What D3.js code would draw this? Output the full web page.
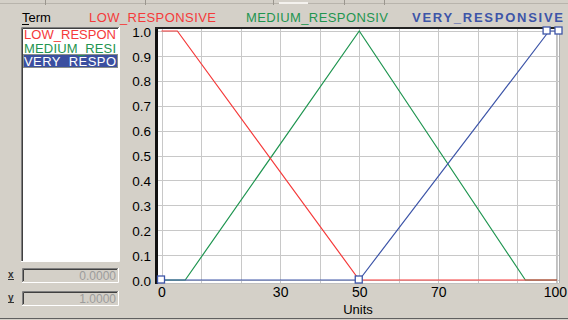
<!DOCTYPE html>
<html><head><meta charset="utf-8">
<script src="https://cdn.jsdelivr.net/npm/d3@7"></script>
<style>body{margin:0;background:#d4d0c8;}svg{display:block;}</style>
</head><body>
<svg id="c" width="568" height="320"></svg>
<script>
const terms = ["LOW_RESPONSIVE", "MEDIUM_RESPONSIV", "VERY_RESPONSIVE"];
const listLabels = ["LOW_RESPON", "MEDIUM_RESI", "VERY_RESPO"];
const lowX = [0, 4, 50, 100];
const lowY = [1, 1, 0, 0];
const medX = [0, 6, 50, 92, 100];
const medY = [0, 0, 1, 0, 0];
const veryX = [0, 50, 98, 100];
const veryY = [0, 0, 1, 1];
const xTicks = [0, 30, 50, 70, 100];
const yTicks = [0, 0.1, 0.2, 0.3, 0.4, 0.5, 0.6, 0.7, 0.8, 0.9, 1.0];
const xGrid = [0, 10, 20, 30, 40, 50, 60, 70, 80, 90, 100];
const colors = ["#f53a3a", "#1f9550", "#3d55a8"];
const xValue = "0.0000", yValue = "1.0000";

const svg = d3.select("#c");
const font = "'Liberation Sans', Arial, sans-serif";

// top strip
svg.append("line").attr("x1", 0).attr("x2", 568).attr("y1", 3.5).attr("y2", 3.5).attr("stroke", "#b8b4ac");
svg.append("rect").attr("x", 279).attr("y", 2).attr("width", 29).attr("height", 2).attr("fill", "#f4f2ee");
[45, 145, 273, 344, 384].forEach(x => svg.append("line").attr("x1", x + 0.5).attr("x2", x + 0.5).attr("y1", 0).attr("y2", 5).attr("stroke", "#9a968e"));
// bottom line
svg.append("line").attr("x1", 0).attr("x2", 568).attr("y1", 318.5).attr("y2", 318.5).attr("stroke", "#606060");

// Term label
svg.append("text").attr("x", 22).attr("y", 22).attr("font-family", font).attr("font-size", 13).attr("fill", "#000").text("Term");
svg.append("line").attr("x1", 22).attr("x2", 29).attr("y1", 24.5).attr("y2", 24.5).attr("stroke", "#000");

// header titles
const titleX = [89, 246, 412];
const titleW = [127, 142, 151];
terms.forEach((t, i) => {
  svg.append("text").attr("x", titleX[i]).attr("y", 22).attr("font-family", font).attr("font-size", 13)
    .attr("font-weight", i === 2 ? "bold" : "normal").attr("fill", colors[i])
    .attr("textLength", titleW[i]).attr("lengthAdjust", "spacing").text(t);
});

// listbox
svg.append("rect").attr("x", 21).attr("y", 27).attr("width", 98).attr("height", 235).attr("fill", "#fff");
svg.append("path").attr("d", "M21.5,262 V27.5 H119").attr("fill", "none").attr("stroke", "#808080");
svg.append("path").attr("d", "M22.5,261 V28.5 H118").attr("fill", "none").attr("stroke", "#404040");
svg.append("path").attr("d", "M21,261.5 H119.5 V27").attr("fill", "none").attr("stroke", "#fff");
svg.append("rect").attr("x", 23).attr("y", 54).attr("width", 95).attr("height", 14).attr("fill", "#3b4fa0");
svg.append("rect").attr("x", 23.5).attr("y", 54.5).attr("width", 94).attr("height", 13).attr("fill", "none")
  .attr("stroke", "#d8d070").attr("stroke-dasharray", "1,1");
listLabels.forEach((t, i) => {
  svg.append("text").attr("x", 24).attr("y", 39 + i * 13.5).attr("font-family", font).attr("font-size", 13)
    .attr("textLength", 92).attr("lengthAdjust", "spacing")
    .attr("fill", i === 2 ? "#fff" : colors[i]).text(t);
});

// x / y boxes
[[268, "x", xValue], [291, "y", yValue]].forEach(([y, lab, val]) => {
  svg.append("rect").attr("x", 22).attr("y", y).attr("width", 96).attr("height", 14).attr("fill", "#d4d0c8");
  svg.append("path").attr("d", `M22.5,${y + 14} V${y + 0.5} H118`).attr("fill", "none").attr("stroke", "#808080");
  svg.append("path").attr("d", `M23.5,${y + 13} V${y + 1.5} H117`).attr("fill", "none").attr("stroke", "#404040");
  svg.append("path").attr("d", `M22,${y + 14.5} H118.5 V${y}`).attr("fill", "none").attr("stroke", "#fff");
  svg.append("text").attr("x", 116).attr("y", y + 11.5).attr("text-anchor", "end").attr("font-family", font)
    .attr("font-size", 12).attr("fill", "#9c9c9c").text(val);
  svg.append("text").attr("x", 8).attr("y", y + 10).attr("font-family", font).attr("font-size", 10).attr("font-weight", "bold").attr("fill", "#333").text(lab);
  svg.append("line").attr("x1", 8).attr("x2", 14).attr("y1", y + 11.5).attr("y2", y + 11.5).attr("stroke", "#333");
});

// plot
const x = d3.scaleLinear().domain([0, 100]).range([161.5, 557]);
const y = d3.scaleLinear().domain([0, 1]).range([280, 31]);

svg.append("rect").attr("x", 158).attr("y", 28).attr("width", 401).attr("height", 255).attr("fill", "#fff");
svg.append("line").attr("x1", 556.5).attr("x2", 556.5).attr("y1", 28).attr("y2", 283).attr("stroke", "#c0c0c0");
svg.append("line").attr("x1", 559.5).attr("x2", 559.5).attr("y1", 28).attr("y2", 283).attr("stroke", "#b0b0b0");
svg.append("line").attr("x1", 158).attr("x2", 559).attr("y1", 283.5).attr("y2", 283.5).attr("stroke", "#c0c0c0");

const g = svg.append("g");
g.selectAll("line.vg").data(xGrid).join("line").attr("class", "vg")
  .attr("x1", d => Math.round(x(d)) + 0.5).attr("x2", d => Math.round(x(d)) + 0.5).attr("y1", 29).attr("y2", 283)
  .attr("stroke", "#c8c8c8");
g.selectAll("line.hg").data(yTicks).join("line").attr("class", "hg")
  .attr("y1", d => Math.round(y(d)) + 0.5).attr("y2", d => Math.round(y(d)) + 0.5).attr("x1", 158).attr("x2", 559)
  .attr("stroke", "#c8c8c8");

// borders
svg.append("rect").attr("x", 155).attr("y", 27).attr("width", 3).attr("height", 257).attr("fill", "#111");
svg.append("rect").attr("x", 155).attr("y", 27).attr("width", 404).attr("height", 2).attr("fill", "#222");

// axes
const yAxis = d3.axisLeft(y).tickValues(yTicks).tickFormat(d3.format(".1f")).tickSize(0).tickPadding(0);
const ya = svg.append("g").attr("transform", "translate(151,0)").call(yAxis);
ya.select(".domain").remove();
ya.selectAll("text").attr("font-family", font).attr("font-size", 13.5).attr("fill", "#000").attr("dy", "0.38em");

const xAxis = d3.axisBottom(x).tickValues(xTicks).tickFormat(d3.format("d")).tickSize(0).tickPadding(0);
const xa = svg.append("g").attr("transform", "translate(0,286)").call(xAxis);
xa.select(".domain").remove();
xa.selectAll("text").attr("font-family", font).attr("font-size", 14).attr("fill", "#000").attr("dy", "0.78em");
xa.selectAll(".tick").filter(d => d === 100).select("text").attr("dx", "-0.15em");

svg.append("text").attr("x", 358).attr("y", 314).attr("text-anchor", "middle").attr("font-family", font)
  .attr("font-size", 13).attr("fill", "#000").text("Units");

// series
const line = d3.line().x(d => x(d[0])).y(d => y(d[1]));
const series = [
  { xs: medX, ys: medY, c: colors[1] },
  { xs: veryX, ys: veryY, c: colors[2] },
  { xs: lowX, ys: lowY, c: colors[0] }
];
series.forEach(s => {
  svg.append("path").datum(s.xs.map((v, i) => [v, s.ys[i]])).attr("d", line)
    .attr("fill", "none").attr("stroke", s.c).attr("stroke-width", 1.2);
});
// handles on selected term
svg.selectAll("rect.h").data(veryX.map((v, i) => [v, veryY[i]])).join("rect").attr("class", "h")
  .attr("x", d => x(d[0]) - (d[0] === 98 ? 6 : (d[0] === 100 ? 2 : 4))).attr("y", d => y(d[1]) - 4)
  .attr("width", 7).attr("height", 7).attr("fill", "#fff").attr("stroke", colors[2]).attr("stroke-width", 1.3);
</script>
</body></html>
